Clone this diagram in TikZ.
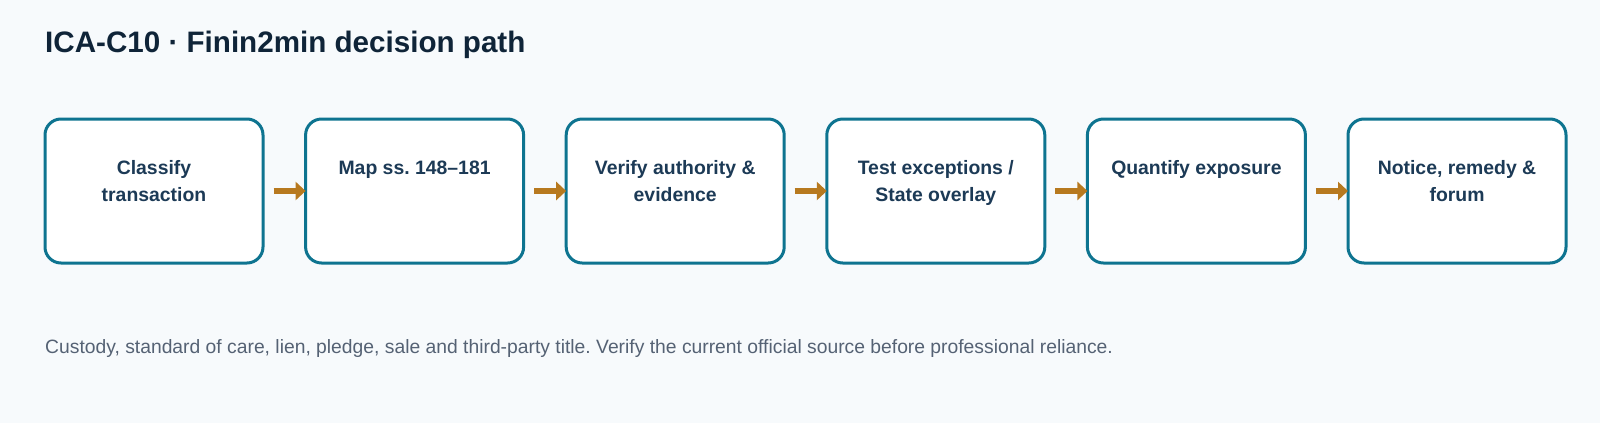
\documentclass[tikz,border=0pt]{standalone}
\usepackage{fontspec}
\setmainfont{Liberation Sans}
\usetikzlibrary{arrows.meta}
\frenchspacing
\definecolor{bgc}{HTML}{F7FAFC}
\definecolor{teal}{HTML}{0E7490}
\definecolor{titlec}{HTML}{0F2438}
\definecolor{boxtxt}{HTML}{1C3A56}
\definecolor{arrc}{HTML}{B7791F}
\definecolor{footc}{HTML}{556274}
\tikzset{
  stepbox/.style={draw=teal, line width=3pt, fill=white, rounded corners=16pt,
    minimum width=218pt, minimum height=144pt, inner sep=0pt},
  lbl/.style={font=\fontsize{19.4}{27}\selectfont\bfseries, text=boxtxt, align=center, inner sep=0pt},
  conn/.style={draw=arrc, line width=5.5pt, -{Triangle[length=10pt 0,width=18pt 0]}},
}
\begin{document}
\begin{tikzpicture}[x=1pt,y=-1pt]
\fill[bgc] (0,0) rectangle (1600,423);
\useasboundingbox (0,0) rectangle (1600,423);
\node[anchor=base west, inner sep=0pt, font=\fontsize{29.6}{34}\selectfont\bfseries, text=titlec] (title) at (45,52.6) {ICA-C10 · Finin2min decision path};
\foreach \i/\n/\t in {1/2/{Classify\\transaction},2/1/{Map ss. 148–181},3/2/{Verify authority \&\\evidence},4/2/{Test exceptions /\\State overlay},5/1/{Quantify exposure},6/2/{Notice, remedy \&\\forum}}{
  \node[stepbox] (b\i) at ({154+260.6*(\i-1)},191) {};
  \node[lbl, anchor=base] (t\i) at ({154+260.6*(\i-1)},{174.3+27*(\n-1)}) {\t};
}
\foreach \i/\j in {1/2,2/3,3/4,4/5,5/6}{
  \draw[conn] ([xshift=9pt]b\i.east) -- ([xshift=1.5pt]b\j.west);
}
\node[anchor=base west, inner sep=0pt, font=\fontsize{19.3}{22}\selectfont, text=footc] (foot) at (45,353.5) {Custody, standard of care, lien, pledge, sale and third-party title. Verify the current official source before professional reliance.};
\end{tikzpicture}
\end{document}
